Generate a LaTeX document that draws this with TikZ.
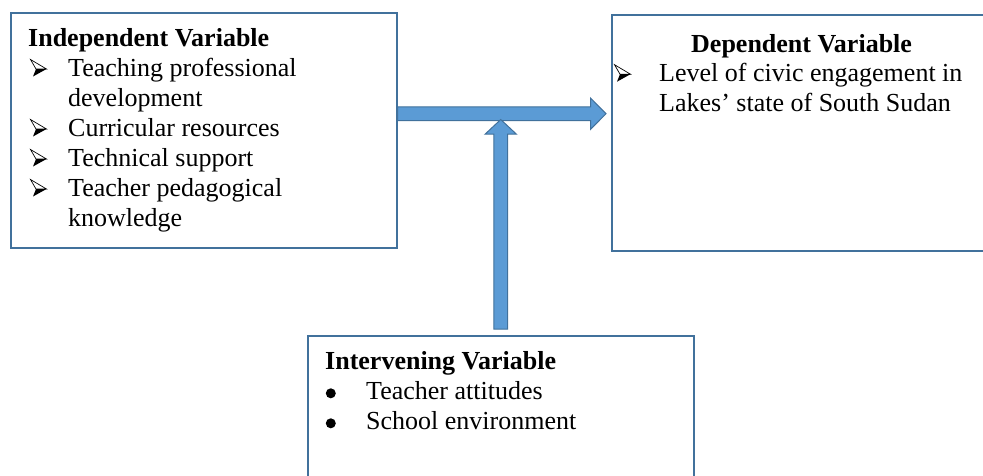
\documentclass[tikz,border=0pt]{standalone}
\usepackage{fontspec}
\setmainfont{Liberation Serif}
\usetikzlibrary{calc}
\definecolor{boxblue}{HTML}{41719C}
\definecolor{arrfill}{HTML}{5B9BD5}
\begin{document}
\begin{tikzpicture}[x=1pt,y=-1pt,
  box/.style={draw=boxblue, line width=1.5pt, fill=white, inner sep=0pt, anchor=north west, rectangle},
  txt/.style={anchor=base west, inner sep=0pt, font=\fontsize{26}{30}\selectfont},
  headtxt/.style={anchor=base west, inner sep=0pt, font=\fontsize{26}{30}\selectfont\bfseries},
  blockarrow/.style={fill=arrfill, draw=boxblue, line width=1pt, line join=miter},
  armark/.pic={
    \draw[black, line width=0.7pt, line join=miter, fill=white] (2.5,-17) -- (18.5,-7.5) -- (8,-7.5) -- cycle;
    \fill[black] (8,-7.5) -- (18.5,-7.5) -- (5,0) -- cycle;
  },
  dotmark/.pic={
    \fill[black] (5.8,-6) circle[radius=5];
  }
]
\useasboundingbox (0,0) rectangle (983,475);
\clip (0,0) rectangle (983,475);
\fill[white] (0,0) rectangle (983,475);

% boxes
\node[box, minimum width=386pt, minimum height=235pt] (ind) at (10,12) {};
\node[box, minimum width=400pt, minimum height=236pt] (dep) at (611,14) {};
\node[box, minimum width=386pt, minimum height=160pt] (inter) at (307,335) {};

% independent variable text
\node[headtxt] (indh) at (28,46.5) {Independent Variable};
\pic (ia1) at (28,76.5) {armark};
\node[txt] (it1) at (68,76.5) {Teaching professional};
\node[txt] (it1b) at (68,106.5) {development};
\pic (ia2) at (28,136.5) {armark};
\node[txt] (it2) at (68,136.5) {Curricular resources};
\pic (ia3) at (28,166.5) {armark};
\node[txt] (it3) at (68,166.5) {Technical support};
\pic (ia4) at (28,196.5) {armark};
\node[txt] (it4) at (68,196.5) {Teacher pedagogical};
\node[txt] (it4b) at (68,226.5) {knowledge};

% dependent variable text
\node[headtxt] (deph) at (691,52) {Dependent Variable};
\pic (da1) at (612,81.7) {armark};
\node[txt] (dt1) at (659,81.7) {Level of civic engagement in};
\node[txt] (dt1b) at (659,111.4) {Lakes’ state of South Sudan};

% intervening variable text
\node[headtxt] (inth) at (325,369.3) {Intervening Variable};
\pic (nd1) at (325,399.3) {dotmark};
\node[txt] (nt1) at (366,399.3) {Teacher attitudes};
\pic (nd2) at (325,429.3) {dotmark};
\node[txt] (nt2) at (366,429.3) {School environment};

% arrows
\coordinate (hy) at (0,113.7);
\coordinate (ty) at (0,119.5);
\coordinate (hs) at (ind.east |- hy);
\coordinate (ht) at ($(dep.west |- hy)+(-5,0)$);
\draw[blockarrow] ($(hs)+(0,-6.8)$) -- ($(ht)+(-15.5,-6.8)$) -- ($(ht)+(-15.5,-15.7)$) -- (ht)
  -- ($(ht)+(-15.5,15.7)$) -- ($(ht)+(-15.5,6.8)$) -- ($(hs)+(0,6.8)$) -- cycle;
\coordinate (vs) at ($(inter.north)+(0,-6)$);
\coordinate (vt) at (inter.north |- ty);
\draw[blockarrow] ($(vs)+(-6.8,0)$) -- ($(vt)+(-6.8,14.5)$) -- ($(vt)+(-15.5,14.5)$) -- (vt)
  -- ($(vt)+(15.5,14.5)$) -- ($(vt)+(6.8,14.5)$) -- ($(vs)+(6.8,0)$) -- cycle;
\end{tikzpicture}
\end{document}
